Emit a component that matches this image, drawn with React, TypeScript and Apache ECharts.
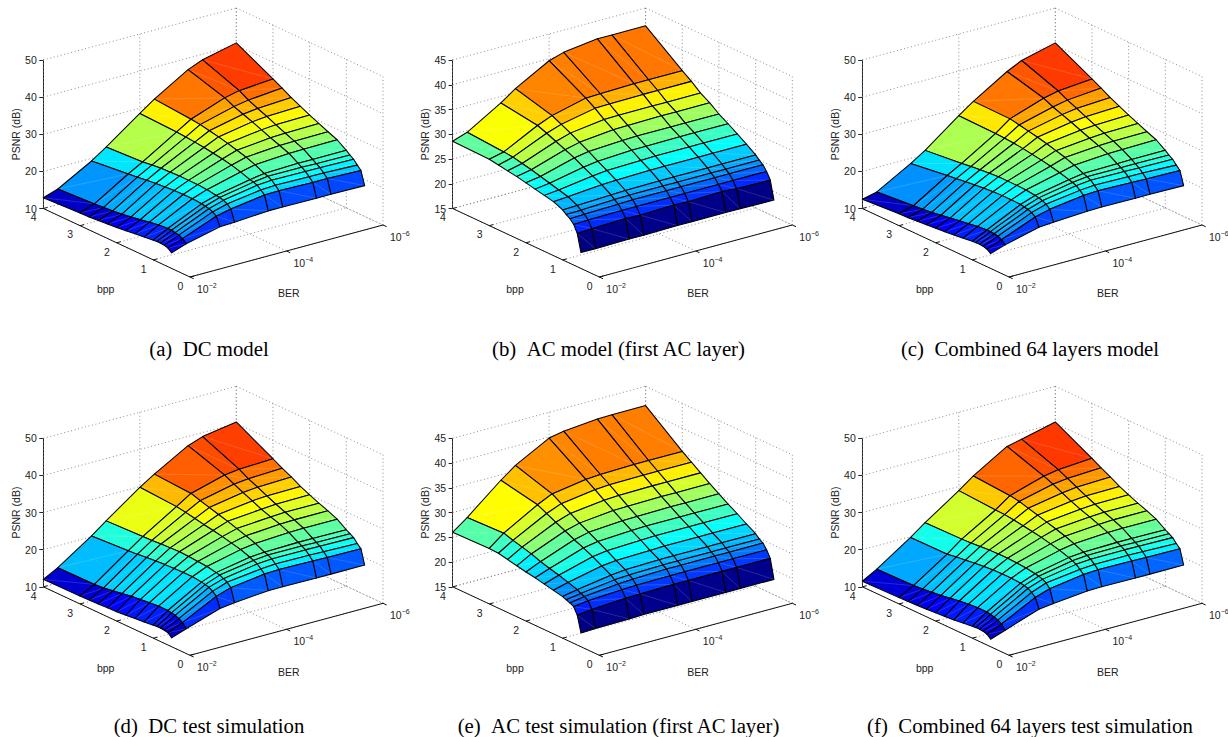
import React, { useEffect, useRef } from "react";
import * as echarts from "echarts";

const bppRows = [0.5, 0.6, 0.7, 0.8, 0.9, 1, 1.25, 1.5, 1.75, 2, 2.25, 2.5, 2.75, 3, 4];
const berColumns = [1e-2, 5e-3, 1e-3, 5e-4, 1e-4, 5e-5, 1e-5, 5e-6, 1e-6];
const bppTicks = [0, 1, 2, 3, 4];
const berTicks = [1e-2, 1e-4, 1e-6];
const berTickExponents = ["−2", "−4", "−6"];
const zTicksDc = [10, 20, 30, 40, 50];
const zTicksAc = [15, 20, 25, 30, 35, 40, 45];

const psnrA = [
  [14.2, 15.6, 17.7, 17.9, 18.5, 18.5, 18.4, 18.4, 18.3],
  [15.0, 16.5, 20.1, 21.0, 22.3, 22.4, 22.2, 22.2, 21.9],
  [15.3, 17.0, 20.8, 21.9, 23.2, 23.4, 23.3, 23.2, 22.9],
  [15.4, 17.2, 21.2, 22.4, 24.0, 24.3, 24.2, 24.2, 24.0],
  [15.4, 17.4, 21.4, 22.7, 24.4, 24.9, 24.9, 24.8, 24.7],
  [15.3, 17.4, 21.6, 22.8, 24.6, 25.2, 25.5, 25.5, 25.5],
  [15.0, 17.2, 21.8, 23.2, 25.5, 26.4, 27.0, 27.1, 27.2],
  [14.7, 16.8, 21.8, 23.4, 26.2, 27.3, 28.0, 28.1, 28.2],
  [14.4, 16.3, 21.7, 23.4, 26.7, 28.0, 28.9, 29.1, 29.3],
  [14.1, 15.9, 21.5, 23.4, 27.1, 28.7, 29.9, 30.2, 30.4],
  [13.9, 15.5, 21.3, 23.3, 27.5, 29.3, 30.9, 31.3, 31.6],
  [13.7, 15.2, 21.0, 23.2, 27.8, 29.8, 31.8, 32.3, 32.8],
  [13.5, 15.0, 20.7, 22.9, 28.0, 30.3, 32.7, 33.4, 34.2],
  [13.4, 14.8, 20.4, 22.6, 28.2, 30.6, 33.9, 34.8, 35.5],
  [12.9, 14.2, 19.3, 22.0, 28.6, 31.4, 36.9, 38.5, 40.6],
];
const psnrB = [
  [18.2, 18.2, 18.3, 18.3, 18.4, 18.4, 18.4, 18.4, 18.3],
  [21.7, 21.9, 22.1, 22.0, 22.2, 22.1, 22.3, 22.1, 22.0],
  [23.2, 23.3, 23.4, 23.4, 23.4, 23.4, 23.4, 23.4, 23.4],
  [24.0, 24.1, 24.3, 24.4, 24.4, 24.4, 24.4, 24.4, 24.4],
  [24.5, 24.6, 24.9, 25.0, 25.0, 25.0, 25.0, 25.0, 25.0],
  [25.1, 25.2, 25.5, 25.6, 25.7, 25.7, 25.7, 25.7, 25.7],
  [25.9, 26.1, 26.7, 26.8, 27.0, 27.0, 27.0, 27.0, 27.0],
  [26.3, 26.6, 27.6, 27.9, 28.1, 28.2, 28.2, 28.2, 28.2],
  [26.7, 27.1, 28.5, 28.9, 29.3, 29.3, 29.4, 29.4, 29.4],
  [27.1, 27.6, 29.5, 30.0, 30.4, 30.5, 30.5, 30.5, 30.5],
  [27.5, 28.1, 30.3, 31.0, 31.7, 31.8, 31.9, 31.9, 31.9],
  [27.8, 28.5, 31.1, 32.0, 32.9, 33.0, 33.0, 33.0, 33.0],
  [28.1, 28.9, 31.9, 32.9, 34.3, 34.4, 34.5, 34.5, 34.5],
  [28.4, 29.1, 32.6, 33.8, 35.5, 35.6, 35.8, 35.8, 35.8],
  [28.6, 29.6, 33.7, 35.8, 39.6, 40.5, 41.4, 41.4, 41.4],
];
const psnrC = [
  [14.0, 15.3, 17.6, 17.9, 18.4, 18.5, 18.4, 18.4, 18.3],
  [14.7, 16.2, 19.9, 20.9, 22.2, 22.4, 22.2, 22.1, 21.9],
  [15.0, 16.7, 20.6, 21.8, 23.1, 23.4, 23.3, 23.2, 22.9],
  [15.1, 16.9, 21.0, 22.3, 23.9, 24.3, 24.2, 24.1, 24.0],
  [15.1, 17.0, 21.2, 22.6, 24.3, 24.8, 24.8, 24.8, 24.7],
  [15.0, 17.0, 21.4, 22.8, 24.6, 25.2, 25.4, 25.5, 25.5],
  [14.7, 16.8, 21.5, 23.1, 25.3, 26.3, 26.9, 27.0, 27.2],
  [14.4, 16.4, 21.5, 23.2, 25.9, 27.2, 27.9, 28.1, 28.2],
  [14.1, 16.0, 21.4, 23.2, 26.4, 27.9, 28.8, 29.1, 29.3],
  [13.9, 15.6, 21.2, 23.2, 26.8, 28.6, 29.8, 30.1, 30.4],
  [13.7, 15.2, 20.9, 23.0, 27.2, 29.2, 30.8, 31.2, 31.6],
  [13.5, 14.8, 20.6, 22.8, 27.5, 29.7, 31.7, 32.3, 32.8],
  [13.3, 14.5, 20.3, 22.5, 27.7, 30.2, 32.6, 33.4, 34.2],
  [13.2, 14.3, 20.0, 22.2, 27.8, 30.7, 33.8, 34.7, 35.5],
  [12.5, 13.4, 18.6, 21.1, 28.0, 30.8, 36.4, 38.3, 40.6],
];
const psnrD = [
  [12.4, 13.8, 16.8, 17.3, 18.1, 18.1, 18.0, 18.0, 18.0],
  [13.3, 15.0, 19.6, 20.9, 22.1, 22.3, 22.1, 22.0, 21.9],
  [13.5, 15.6, 20.5, 21.9, 23.0, 23.3, 23.2, 23.1, 22.9],
  [13.6, 16.0, 21.1, 22.4, 23.9, 24.2, 24.2, 24.1, 24.0],
  [13.6, 16.2, 21.4, 22.9, 24.4, 24.8, 24.8, 24.7, 24.6],
  [13.5, 16.4, 21.6, 23.1, 24.8, 25.1, 25.3, 25.3, 25.2],
  [13.2, 16.4, 21.9, 23.6, 25.7, 26.3, 26.8, 26.9, 26.9],
  [13.0, 16.2, 21.9, 23.8, 26.3, 27.2, 27.9, 28.0, 28.0],
  [12.7, 15.9, 21.8, 24.0, 26.9, 28.0, 28.7, 28.9, 28.9],
  [12.5, 15.6, 21.7, 24.1, 27.4, 28.8, 29.6, 29.9, 30.0],
  [12.4, 15.2, 21.5, 24.0, 27.8, 29.5, 30.7, 31.0, 31.1],
  [12.3, 14.8, 21.3, 23.9, 28.3, 30.2, 31.8, 32.2, 32.5],
  [12.2, 14.4, 21.0, 23.7, 28.8, 30.9, 32.9, 33.3, 33.7],
  [12.1, 14.2, 20.8, 23.6, 29.2, 31.7, 34.2, 34.7, 35.1],
  [12.0, 14.1, 20.2, 23.2, 29.8, 32.3, 37.5, 38.9, 40.4],
];
const psnrE = [
  [17.8, 17.9, 18.0, 18.1, 18.1, 18.1, 18.1, 18.1, 18.1],
  [21.0, 21.4, 21.8, 21.9, 22.0, 22.0, 22.0, 22.0, 22.0],
  [22.4, 22.8, 23.2, 23.3, 23.4, 23.4, 23.4, 23.4, 23.4],
  [22.8, 23.3, 24.0, 24.2, 24.4, 24.4, 24.4, 24.4, 24.4],
  [23.1, 23.6, 24.5, 24.7, 24.9, 24.9, 24.9, 24.9, 24.9],
  [23.4, 24.0, 25.1, 25.4, 25.6, 25.6, 25.6, 25.6, 25.6],
  [23.8, 24.6, 26.1, 26.4, 26.6, 26.7, 26.7, 26.7, 26.7],
  [24.2, 25.2, 27.1, 27.5, 27.8, 27.9, 27.9, 27.9, 27.9],
  [24.6, 25.7, 28.0, 28.5, 28.9, 29.0, 29.0, 29.0, 29.0],
  [24.9, 26.2, 28.8, 29.5, 30.0, 30.1, 30.2, 30.2, 30.2],
  [25.3, 26.9, 29.7, 30.5, 31.2, 31.3, 31.4, 31.4, 31.4],
  [25.7, 27.4, 30.6, 31.6, 32.4, 32.6, 32.7, 32.7, 32.7],
  [26.1, 27.9, 31.5, 32.7, 33.7, 33.9, 34.0, 34.0, 34.0],
  [26.2, 28.5, 32.4, 33.8, 34.9, 35.1, 35.3, 35.3, 35.3],
  [26.0, 28.2, 33.9, 36.1, 39.8, 40.4, 41.0, 41.1, 41.1],
];
const psnrF = [
  [12.0, 13.4, 16.6, 17.1, 18.0, 18.1, 18.0, 18.0, 18.0],
  [12.9, 14.6, 19.3, 20.6, 22.0, 22.2, 22.1, 22.0, 21.9],
  [13.2, 15.2, 20.2, 21.7, 22.9, 23.2, 23.2, 23.1, 22.9],
  [13.3, 15.6, 20.8, 22.2, 23.8, 24.1, 24.2, 24.1, 24.0],
  [13.3, 15.8, 21.1, 22.6, 24.3, 24.7, 24.8, 24.7, 24.6],
  [13.2, 16.0, 21.3, 22.8, 24.7, 25.1, 25.3, 25.3, 25.2],
  [12.9, 16.0, 21.5, 23.2, 25.5, 26.2, 26.8, 26.9, 26.9],
  [12.6, 15.8, 21.5, 23.4, 26.1, 27.1, 27.8, 28.0, 28.0],
  [12.4, 15.5, 21.4, 23.5, 26.7, 27.9, 28.7, 28.9, 28.9],
  [12.2, 15.1, 21.2, 23.5, 27.1, 28.6, 29.6, 29.9, 30.0],
  [12.0, 14.7, 20.9, 23.4, 27.5, 29.3, 30.6, 31.0, 31.1],
  [11.9, 14.4, 20.6, 23.2, 27.9, 30.0, 31.7, 32.2, 32.5],
  [11.8, 14.1, 20.3, 23.0, 28.2, 30.7, 32.9, 33.4, 33.8],
  [11.7, 13.9, 19.9, 22.9, 28.3, 31.1, 33.9, 34.6, 35.2],
  [11.5, 13.7, 19.8, 22.7, 28.9, 31.8, 37.3, 38.2, 40.4],
];

const captions = [
  "(a)\u00a0\u00a0DC model",
  "(b)\u00a0\u00a0AC model (first AC layer)",
  "(c)\u00a0\u00a0Combined 64 layers model",
  "(d)\u00a0\u00a0DC test simulation",
  "(e)\u00a0\u00a0AC test simulation (first AC layer)",
  "(f)\u00a0\u00a0Combined 64 layers test simulation",
];
const tables = [psnrA, psnrB, psnrC, psnrD, psnrE, psnrF];
const zTickSets = [zTicksDc, zTicksAc, zTicksDc, zTicksDc, zTicksAc, zTicksDc];

// layout
const panelDx = [0, 409.3, 819];
const panelDy = [0, 378.3];
const AX_LEFT = 43.3;
const AX_TOP = 60;
const AX_H = 148.5;
const BPP_DX = 146.7;
const BPP_DY = 68.5;
const BER_DX = 193;
const BER_DY = 52;
const AX_W = BPP_DX + BER_DX;
const captionX = [209, 618.5, 1030];
const captionY = [348, 725];
const SANS = "'Liberation Sans', Arial, sans-serif";
const SERIF = "'Liberation Serif', 'Times New Roman', serif";
const INK = "#222";

const aOf = (bpp: number) => bpp / 4;
const vOf = (ber: number) => (-Math.log10(ber) - 2) / 4;

function jet(n: number) {
  const c = Math.max(0, Math.min(1, n));
  const f = (x: number) => Math.max(0, Math.min(1, x));
  const r = f(Math.min(4 * c - 1.5, -4 * c + 4.5));
  const g = f(Math.min(4 * c - 0.5, -4 * c + 3.5));
  const b = f(Math.min(4 * c + 0.5, -4 * c + 2.5));
  return `rgb(${Math.round(r * 255)},${Math.round(g * 255)},${Math.round(b * 255)})`;
}

function project(api: any, a: number, v: number, z: number): number[] {
  const h = ((1 - a) * BPP_DX + v * BER_DX) / AX_W;
  const p = api.coord([h, z]);
  return [p[0], p[1] + (1 - a) * BPP_DY - v * BER_DY];
}

function buildOption() {
  const grid: any[] = [];
  const xAxis: any[] = [];
  const yAxis: any[] = [];
  const series: any[] = [];
  const graphic: any[] = [];

  tables.forEach((table, idx) => {
    const cx = idx % 3;
    const cy = idx < 3 ? 0 : 1;
    const ticks = zTickSets[idx];
    const zMin = ticks[0];
    const zMax = ticks[ticks.length - 1];
    grid.push({
      left: AX_LEFT + panelDx[cx],
      top: AX_TOP + panelDy[cy],
      width: AX_W,
      height: AX_H,
      containLabel: false,
    });
    xAxis.push({ type: "value", gridIndex: idx, min: 0, max: 1, show: false });
    yAxis.push({
      type: "value",
      gridIndex: idx,
      min: zMin,
      max: zMax,
      interval: ticks[1] - ticks[0],
      name: "PSNR (dB)",
      nameLocation: "middle",
      nameGap: 22,
      nameRotate: 90,
      nameTextStyle: { fontFamily: SANS, fontSize: 10.5, color: INK },
      axisLine: { show: true, lineStyle: { color: "#222", width: 1 } },
      axisTick: { show: true, length: 4, lineStyle: { color: "#222", width: 1 } },
      axisLabel: { fontFamily: SANS, fontSize: 10.5, color: INK, margin: 6.5 },
      splitLine: { show: false },
    });

    // dotted box grid
    const gridSegs: number[][] = [];
    ticks.forEach((t) => {
      gridSegs.push([1, 0, t, 1, 1, t]);
      gridSegs.push([1, 1, t, 0, 1, t]);
    });
    berTicks.forEach((b) => {
      const v = vOf(b);
      gridSegs.push([1, v, zMin, 1, v, zMax]);
      gridSegs.push([0, v, zMin, 1, v, zMin]);
    });
    bppTicks.forEach((b) => {
      const a = aOf(b);
      gridSegs.push([a, 1, zMin, a, 1, zMax]);
      gridSegs.push([a, 0, zMin, a, 1, zMin]);
    });
    series.push({
      type: "custom",
      xAxisIndex: idx,
      yAxisIndex: idx,
      z: 1,
      silent: true,
      clip: false,
      data: gridSegs,
      renderItem: (_p: any, api: any) => {
        const s = project(api, api.value(0), api.value(1), api.value(2));
        const e = project(api, api.value(3), api.value(4), api.value(5));
        return {
          type: "line",
          shape: { x1: s[0], y1: s[1], x2: e[0], y2: e[1] },
          style: { stroke: "#808080", lineWidth: 0.9, lineDash: [1, 2.6] },
        };
      },
    });

    // floor axes with their ticks and labels
    series.push({
      type: "custom",
      xAxisIndex: idx,
      yAxisIndex: idx,
      z: 2,
      silent: true,
      clip: false,
      data: [[0]],
      renderItem: (_p: any, api: any) => {
        const children: any[] = [];
        const seg = (p: number[], q: number[]) =>
          children.push({
            type: "line",
            shape: { x1: p[0], y1: p[1], x2: q[0], y2: q[1] },
            style: { stroke: "#111", lineWidth: 1 },
          });
        const txt = (text: string, x: number, y: number, extra: any = {}) =>
          children.push({
            type: "text",
            style: {
              text,
              x,
              y,
              fontFamily: SANS,
              fontSize: 10.5,
              fill: INK,
              align: "center",
              verticalAlign: "middle",
              ...extra,
            },
          });
        seg(project(api, 1, 0, zMin), project(api, 0, 0, zMin));
        seg(project(api, 0, 0, zMin), project(api, 0, 1, zMin));
        bppTicks.forEach((b) => {
          const p = project(api, aOf(b), 0, zMin);
          seg(p, [p[0] + 4, p[1] - 1]);
          txt(String(b), p[0] - 9.7, p[1] + 8.8);
        });
        berTicks.forEach((b, i) => {
          const p = project(api, 0, vOf(b), zMin);
          seg(p, [p[0] + 3.7, p[1] + 1.7]);
          txt(`{b|10}{s|${berTickExponents[i]}}`, p[0] + 7, p[1] + 11, {
            align: "left",
            rich: {
              b: { fontFamily: SANS, fontSize: 10.5, fill: INK, lineHeight: 13, verticalAlign: "bottom" },
              s: { fontFamily: SANS, fontSize: 7, fill: INK, lineHeight: 8, verticalAlign: "top" },
            },
          });
        });
        const o = project(api, 0, 0, zMin);
        txt("bpp", o[0] - 84.3, o[1] + 12.3);
        txt("BER", o[0] + 98.7, o[1] + 16.3);
        return { type: "group", children };
      },
    });

    // surface facets, painted back to front
    const facets: number[][] = [];
    for (let i = bppRows.length - 2; i >= 0; i--) {
      for (let j = berColumns.length - 2; j >= 0; j--) {
        facets.push([
          aOf(bppRows[i]),
          aOf(bppRows[i + 1]),
          vOf(berColumns[j]),
          vOf(berColumns[j + 1]),
          table[i][j],
          table[i][j + 1],
          table[i + 1][j + 1],
          table[i + 1][j],
        ]);
      }
    }
    const flat = table.flat();
    const cMin = Math.min(...flat);
    const cMax = Math.max(...flat);
    series.push({
      type: "custom",
      xAxisIndex: idx,
      yAxisIndex: idx,
      z: 3,
      silent: true,
      clip: false,
      data: facets,
      renderItem: (_p: any, api: any) => {
        const a0 = api.value(0);
        const a1 = api.value(1);
        const v0 = api.value(2);
        const v1 = api.value(3);
        const z00 = api.value(4);
        const z01 = api.value(5);
        const z11 = api.value(6);
        const z10 = api.value(7);
        const p01 = project(api, a0, v1, z01);
        const p10 = project(api, a1, v0, z10);
        return {
          type: "group",
          children: [
            {
              type: "polygon",
              shape: {
                points: [
                  project(api, a0, v0, z00),
                  p01,
                  project(api, a1, v1, z11),
                  p10,
                ],
              },
              style: {
                fill: jet((z01 - cMin) / (cMax - cMin)),
                stroke: "none",
              },
            },
            {
              type: "line",
              shape: { x1: p10[0], y1: p10[1], x2: p01[0], y2: p01[1] },
              style: { stroke: "#fff", lineWidth: 0.5, opacity: 0.3 },
            },
            {
              type: "polygon",
              shape: {
                points: [
                  project(api, a0, v0, z00),
                  p01,
                  project(api, a1, v1, z11),
                  p10,
                ],
              },
              style: {
                fill: "none",
                stroke: "#000",
                lineWidth: 1.05,
                lineJoin: "round",
              },
            },
          ],
        };
      },
    });

    graphic.push({
      type: "text",
      silent: true,
      style: {
        text: captions[idx],
        x: captionX[cx],
        y: captionY[cy],
        align: "center",
        verticalAlign: "middle",
        fontFamily: SERIF,
        fontSize: 20.8,
        fill: "#000",
      },
    });
  });

  return {
    animation: false,
    backgroundColor: "#fff",
    grid,
    xAxis,
    yAxis,
    series,
    graphic,
  };
}

export default function App() {
  const ref = useRef<HTMLDivElement>(null);
  useEffect(() => {
    const chart = echarts.init(ref.current!, undefined, { renderer: "svg" });
    chart.setOption(buildOption() as any);
    return () => chart.dispose();
  }, []);
  return (
    <div
      ref={ref}
      style={{ position: "absolute", left: 0, top: 0, width: 1228, height: 737 }}
    />
  );
}
